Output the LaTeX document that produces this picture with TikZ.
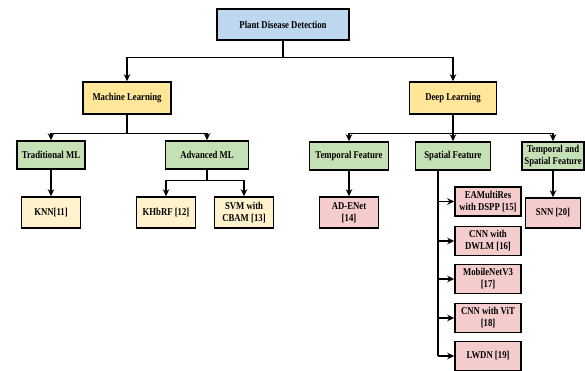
\documentclass[tikz,border=0pt]{standalone}
\usepackage{fontspec}
\setmainfont{Liberation Serif}[FakeStretch=0.83]
\usetikzlibrary{arrows.meta}
\definecolor{rootblue}{HTML}{BDD7EE}
\definecolor{mainyellow}{HTML}{FFE699}
\definecolor{subgreen}{HTML}{C5E0B4}
\definecolor{leafcream}{HTML}{FFF2CC}
\definecolor{leafpink}{HTML}{F4CCCC}

\begin{document}
\begin{tikzpicture}[x=1pt, y=-1pt,
  box/.style={draw=black, line width=1.6pt, inner sep=0pt, align=center,
    font={\fontsize{10.5}{12}\selectfont\bfseries}},
  line/.style={line width=1.3pt},
  arr/.style={line width=1.3pt, -{Stealth[length=7pt,width=6.5pt]}}]
  \useasboundingbox (0,0) rectangle (585,371);

  \node[box, fill=rootblue, minimum width=132pt, minimum height=31pt] (pdd) at (283,24.5) {Plant Disease Detection};

  \node[box, fill=mainyellow, minimum width=88pt, minimum height=32pt] (ml) at (127,98) {Machine Learning};
  \node[box, fill=mainyellow, minimum width=87pt, minimum height=32pt] (dl) at (453,98) {Deep Learning};

  \node[box, fill=subgreen, minimum width=68pt, minimum height=28pt] (trad) at (51,155) {Traditional ML};
  \node[box, fill=subgreen, minimum width=83pt, minimum height=28pt] (adv) at (207,155) {Advanced ML};
  \node[box, fill=subgreen, minimum width=79pt, minimum height=28pt] (tf) at (349,156) {Temporal Feature};
  \node[box, fill=subgreen, minimum width=75pt, minimum height=28pt] (spat) at (453,156) {Spatial Feature};
  \node[box, fill=subgreen, minimum width=62pt, minimum height=28pt] (tsf) at (553,156) {Temporal and\\Spatial Feature};

  \node[box, fill=leafcream, minimum width=59pt, minimum height=31pt] (knn) at (51,212.5) {KNN[11]};
  \node[box, fill=leafcream, minimum width=59pt, minimum height=31pt] (khb) at (166,212.5) {KHbRF [12]};
  \node[box, fill=leafcream, minimum width=59pt, minimum height=31pt] (svm) at (244,212.5) {SVM with\\CBAM [13]};

  \node[box, fill=leafpink, minimum width=59pt, minimum height=31pt] (adenet) at (349,212.5) {AD-ENet\\{[14]}};
  \node[box, fill=leafpink, minimum width=55pt, minimum height=30pt] (snn) at (553,213) {SNN [20]};

  \node[box, fill=leafpink, minimum width=66pt, minimum height=29pt] (eam) at (488,201.5) {EAMultiRes\\with DSPP [15]};
  \node[box, fill=leafpink, minimum width=66pt, minimum height=29pt] (dwlm) at (488,241) {CNN with\\DWLM [16]};
  \node[box, fill=leafpink, minimum width=66pt, minimum height=29pt] (mob) at (488,279) {MobileNetV3\\{[17]}};
  \node[box, fill=leafpink, minimum width=66pt, minimum height=29pt] (vit) at (488,318) {CNN with ViT\\{[18]}};
  \node[box, fill=leafpink, minimum width=66pt, minimum height=29pt] (lwdn) at (488,356) {LWDN [19]};

  \draw[arr] (pdd.south) -- ++(0,16.5) -| (ml.north);
  \draw[arr] (pdd.south) -- ++(0,16.5) -| (dl.north);

  \draw[arr] (ml.south) -- ++(0,19) -| (trad.north);
  \draw[arr] (ml.south) -- ++(0,19) -| (adv.north);
  \draw[arr] (trad) -- (knn);
  \draw[arr] (adv.south) -- ++(0,11) -| (khb.north);
  \draw[arr] (adv.south) -- ++(0,11) -| (svm.north);

  \draw[arr] (dl.south) -- ++(0,19) -| (tf.north);
  \draw[arr] (dl.south) -- ++(0,19) -| (spat.north);
  \draw[arr] (dl.south) -- ++(0,19) -| (tsf.north);
  \draw[arr] (tf) -- (adenet);
  \draw[arr] (tsf) -- (snn);

  \coordinate (spine) at (438,356);
  \draw[line] (spat.south -| spine) -- (spine);
  \foreach \leaf in {eam,dwlm,mob,vit,lwdn}
    \draw[arr] (spine |- \leaf.west) -- (\leaf.west);
\end{tikzpicture}
\end{document}
